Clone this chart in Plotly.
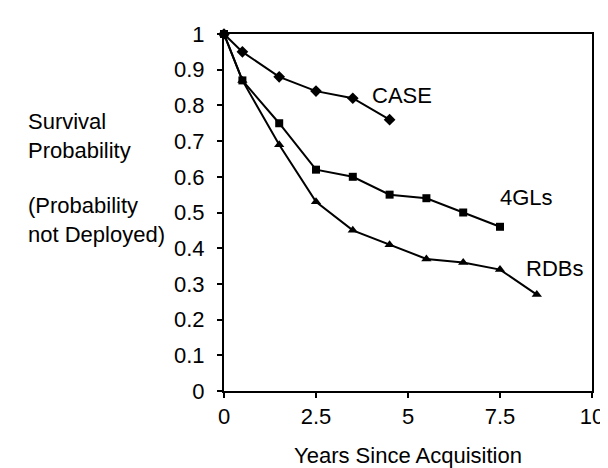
import plotly.graph_objects as go

years_case = [0, 0.5, 1.5, 2.5, 3.5, 4.5]
case_vals = [1.0, 0.95, 0.88, 0.84, 0.82, 0.76]

years_4gl = [0, 0.5, 1.5, 2.5, 3.5, 4.5, 5.5, 6.5, 7.5]
gl4_vals = [1.0, 0.87, 0.75, 0.62, 0.60, 0.55, 0.54, 0.50, 0.46]

years_rdb = [0, 0.5, 1.5, 2.5, 3.5, 4.5, 5.5, 6.5, 7.5, 8.5]
rdb_vals = [1.0, 0.87, 0.69, 0.53, 0.45, 0.41, 0.37, 0.36, 0.34, 0.27]

x_ticks = [0, 2.5, 5, 7.5, 10]
x_tick_labels = ["0", "2.5", "5", "7.5", "10"]
y_ticks = [0, 0.1, 0.2, 0.3, 0.4, 0.5, 0.6, 0.7, 0.8, 0.9, 1.0]
y_tick_labels = ["0", "0.1", "0.2", "0.3", "0.4", "0.5", "0.6", "0.7", "0.8", "0.9", "1"]

FONT = "Liberation Sans, Arial, sans-serif"
FS = 22

fig = go.Figure()
fig.add_trace(go.Scatter(x=years_case, y=case_vals, mode="lines+markers", name="CASE",
                         line=dict(color="black", width=2),
                         marker=dict(symbol="diamond", size=9, color="black"),
                         cliponaxis=False))
fig.add_trace(go.Scatter(x=years_4gl, y=gl4_vals, mode="lines+markers", name="4GLs",
                         line=dict(color="black", width=2),
                         marker=dict(symbol="square", size=8, color="black"),
                         cliponaxis=False))
fig.add_trace(go.Scatter(x=years_rdb, y=rdb_vals, mode="lines+markers", name="RDBs",
                         line=dict(color="black", width=2),
                         marker=dict(symbol="triangle-up", size=9, color="black"),
                         cliponaxis=False))

series_labels = [("CASE", 3.98, 0.829), ("4GLs", 7.44, 0.543), ("RDBs", 8.15, 0.342)]
for txt, lx, ly in series_labels:
    fig.add_annotation(x=lx, y=ly, xref="x", yref="y", text=txt, showarrow=False,
                       xanchor="left", yanchor="middle",
                       font=dict(family=FONT, size=FS, color="black"))

fig.add_annotation(x=-0.538, y=0.715, xref="paper", yref="paper",
                   text="Survival<br>Probability", showarrow=False, align="left",
                   xanchor="left", yanchor="middle",
                   font=dict(family=FONT, size=FS, color="black"))
fig.add_annotation(x=-0.538, y=0.48, xref="paper", yref="paper",
                   text="(Probability<br>not Deployed)", showarrow=False, align="left",
                   xanchor="left", yanchor="middle",
                   font=dict(family=FONT, size=FS, color="black"))

fig.update_xaxes(range=[0, 10], tickvals=x_ticks, ticktext=x_tick_labels,
                 showgrid=False, zeroline=False, showline=True, linecolor="black",
                 linewidth=2, mirror=True, ticks="outside", ticklen=5, tickwidth=2,
                 tickcolor="black", tickfont=dict(family=FONT, size=FS, color="black"),
                 title=dict(text="Years Since Acquisition", standoff=19,
                            font=dict(family=FONT, size=FS, color="black")))
fig.update_yaxes(range=[0, 1], tickvals=y_ticks, ticktext=y_tick_labels,
                 showgrid=False, zeroline=False, showline=True, linecolor="black",
                 linewidth=2, mirror=True, ticks="outside", ticklen=5, tickwidth=2,
                 tickcolor="black", ticklabelstandoff=8,
                 tickfont=dict(family=FONT, size=FS, color="black"))

fig.update_layout(width=608, height=468, showlegend=False,
                  margin=dict(l=216, r=13, t=26, b=85),
                  paper_bgcolor="white", plot_bgcolor="white",
                  font=dict(family=FONT, size=FS, color="black"))

fig.write_html("out.html")
